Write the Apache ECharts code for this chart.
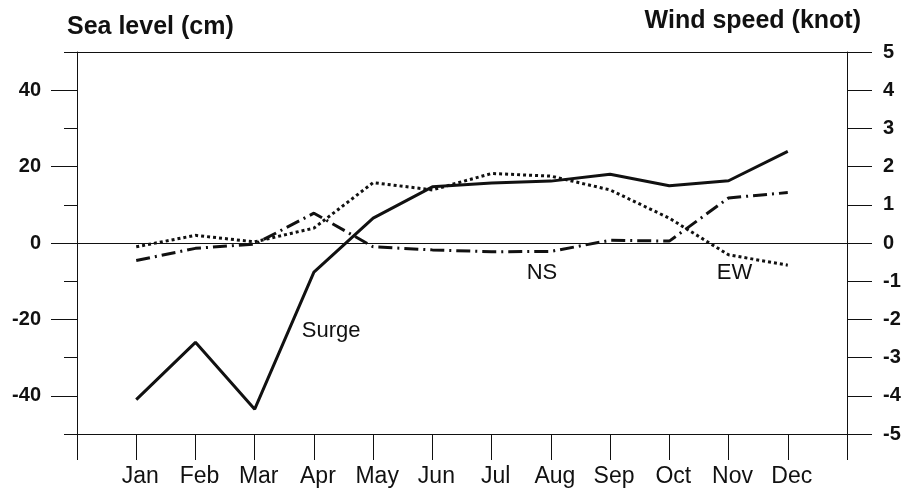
<!DOCTYPE html>
<html>
<head>
<meta charset="utf-8">
<script src="https://cdn.jsdelivr.net/npm/echarts@6/dist/echarts.min.js"></script>
<style>html,body{margin:0;padding:0;background:#fff}#c{width:912px;height:491px}</style>
</head>
<body>
<div id="c"></div>
<script>
// ---- data ----
const months = ['Jan','Feb','Mar','Apr','May','Jun','Jul','Aug','Sep','Oct','Nov','Dec'];
const surge = [-41, -26, -43.5, -7.6, 6.5, 14.7, 15.7, 16.2, 18.0, 15.0, 16.3, 24.0]; // cm
const ns = [-0.46, -0.14, -0.03, 0.78, -0.10, -0.18, -0.23, -0.22, 0.07, 0.05, 1.18, 1.32]; // knot
const ew = [-0.10, 0.20, 0.03, 0.39, 1.58, 1.39, 1.82, 1.75, 1.39, 0.65, -0.31, -0.58]; // knot
const leftMajorTicks = [-40, -20, 0, 20, 40];
const leftMinorTicks = [-50, -30, -10, 10, 30, 50];
const rightTicks = [-5, -4, -3, -2, -1, 0, 1, 2, 3, 4, 5];

const FONT = '"Liberation Sans", Arial, Helvetica, sans-serif';
const INK = '#111';
const toXY = arr => arr.map((v, i) => [i + 1, v]);

const chart = echarts.init(document.getElementById('c'), null, {renderer: 'canvas'});
chart.setOption({
  animation: false,
  backgroundColor: '#fff',
  textStyle: {fontFamily: FONT, color: INK},
  title: [
    {text: 'Sea level (cm)', left: 62, top: 10,
     textStyle: {fontFamily: FONT, fontSize: 25, fontWeight: 'bold', color: INK}},
    {text: 'Wind speed (knot)', right: 46, top: 4,
     textStyle: {fontFamily: FONT, fontSize: 25, fontWeight: 'bold', color: INK}}
  ],
  grid: {left: 77, right: 65, top: 52, bottom: 57, containLabel: false},
  xAxis: [
    {type: 'value', position: 'bottom', min: 0, max: 13, interval: 1,
     axisLine: {show: true, onZero: false, lineStyle: {color: INK, width: 1}},
     axisTick: {show: true, inside: false, length: 26, lineStyle: {color: INK, width: 1}},
     splitLine: {show: false},
     axisLabel: {show: true, margin: 31, fontSize: 23, color: INK, fontFamily: FONT,
       padding: [0, 0, 0, 8],
       formatter: v => months[v - 1] || ''}},
    {type: 'value', position: 'top', min: 0, max: 13,
     axisLine: {show: true, onZero: false, lineStyle: {color: INK, width: 1}},
     axisTick: {show: false}, axisLabel: {show: false}, splitLine: {show: false}}
  ],
  yAxis: [
    {type: 'value', position: 'left', min: -50, max: 50, interval: 10,
     axisLine: {show: true, onZero: false, lineStyle: {color: INK, width: 1}},
     axisTick: {show: true, length: 26, customValues: leftMajorTicks, lineStyle: {color: INK, width: 1}},
     axisLabel: {show: true, customValues: leftMajorTicks, margin: 36, fontSize: 20, fontWeight: 'bold', color: INK, fontFamily: FONT},
     splitLine: {show: false}},
    {type: 'value', position: 'right', min: -5, max: 5, interval: 1,
     axisLine: {show: true, onZero: false, lineStyle: {color: INK, width: 1}},
     axisTick: {show: true, length: 25, customValues: rightTicks, lineStyle: {color: INK, width: 1}},
     axisLabel: {show: true, customValues: rightTicks, margin: 36, fontSize: 20, fontWeight: 'bold', color: INK, fontFamily: FONT},
     splitLine: {show: false}},
    {type: 'value', position: 'left', min: -50, max: 50, interval: 10,
     axisLine: {show: false, onZero: false},
     axisTick: {show: true, length: 13, customValues: leftMinorTicks, lineStyle: {color: INK, width: 1}},
     axisLabel: {show: false}, splitLine: {show: false}}
  ],
  series: [
    {name: 'Surge', type: 'line', xAxisIndex: 0, yAxisIndex: 0, data: toXY(surge),
     showSymbol: false, symbol: 'none',
     lineStyle: {color: INK, width: 3, type: 'solid'},
     markLine: {silent: true, symbol: ['none', 'none'], label: {show: false},
       lineStyle: {color: INK, width: 1, type: 'solid'}, data: [{yAxis: 0}]},
     markPoint: {symbol: 'circle', symbolSize: 0, silent: true,
       label: {show: true, position: 'inside', formatter: 'Surge', fontSize: 22, color: INK, fontFamily: FONT},
       data: [{coord: [4.29, -23]}]}},
    {name: 'NS', type: 'line', xAxisIndex: 0, yAxisIndex: 1, data: toXY(ns),
     showSymbol: false, symbol: 'none',
     lineStyle: {color: INK, width: 3, type: [14, 5, 2, 5]},
     markPoint: {symbol: 'circle', symbolSize: 0, silent: true,
       label: {show: true, position: 'inside', formatter: 'NS', fontSize: 22, color: INK, fontFamily: FONT},
       data: [{coord: [7.85, -0.79]}]}},
    {name: 'EW', type: 'line', xAxisIndex: 0, yAxisIndex: 1, data: toXY(ew),
     showSymbol: false, symbol: 'none',
     lineStyle: {color: INK, width: 3, type: [3, 3]},
     markPoint: {symbol: 'circle', symbolSize: 0, silent: true,
       label: {show: true, position: 'inside', formatter: 'EW', fontSize: 22, color: INK, fontFamily: FONT},
       data: [{coord: [11.1, -0.79]}]}}
  ]
});
</script>
</body>
</html>
